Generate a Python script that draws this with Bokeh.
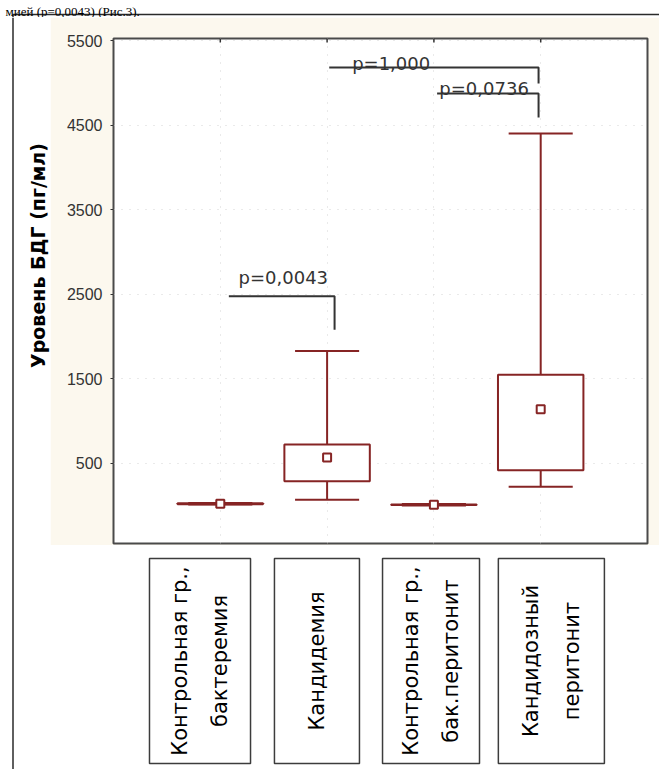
from math import pi
from bokeh.plotting import figure
from bokeh.layouts import row, column
from bokeh.models import Range1d, FixedTicker
from bokeh.core.properties import value
from bokeh.embed import file_html
from bokeh.resources import INLINE

# ---------------- data ----------------
groups = ["Контрольная гр.,\nбактеремия", "Кандидемия",
          "Контрольная гр.,\nбак.перитонит", "Кандидозный\nперитонит"]
positions = [1, 2, 3, 4]
whisker_low = [15, 70, 3, 225]
box_low = [18, 290, 8, 420]
mean_vals = [24, 570, 12, 1140]
box_high = [30, 725, 16, 1550]
whisker_high = [33, 1830, 22, 4400]

y_ticks = [500, 1500, 2500, 3500, 4500, 5500]
y_title = "Уровень БДГ (пг/мл)"
caption = "мией (p=0,0043) (Рис.3)."

p_texts = ["p=0,0043", "p=1,000", "p=0,0736"]
p_text_x = [1.59, 2.60, 3.47]
p_text_y = [2700, 5228, 4933]
bracket_xs = [[1.08, 2.07, 2.07], [2.02, 3.98, 3.98], [3.03, 3.98, 3.98]]
bracket_ys = [[2476, 2476, 2080], [5181, 5181, 4992], [4873, 4873, 4590]]

# category label boxes (offset from category position, width in x units)
label_offset = [-0.19, -0.095, -0.027, 0.10]
label_width = [0.946, 0.796, 0.908, 0.993]

# ---------------- style ----------------
BOX = "#862424"
CREAM = "#FCF8EE"
INK = "#333333"
DOC = "#2a2a2a"
Y0, Y1 = -446, 5524


def deco(w, h, xr, yr, **kw):
    f = figure(width=w, height=h, output_backend="svg", toolbar_location=None,
               title=None, x_range=xr, y_range=yr, x_axis_location=None,
               y_axis_location=None, min_border=0, outline_line_color=None,
               background_fill_color="white", border_fill_color="white", **kw)
    f.xgrid.visible = False
    f.ygrid.visible = False
    return f


# ---------------- main plot ----------------
p = figure(width=609, height=528, output_backend="svg", toolbar_location=None,
           title=None, x_range=Range1d(0, 5), y_range=Range1d(Y0, Y1),
           x_axis_location=None,
           min_border_left=63, min_border_top=21, min_border_right=12,
           min_border_bottom=2,
           background_fill_color="white", border_fill_color=CREAM,
           outline_line_color="#4a4a4a", outline_line_width=2)

p.yaxis.ticker = FixedTicker(ticks=y_ticks)
p.yaxis.axis_line_color = None
p.yaxis.major_tick_out = 3
p.yaxis.major_tick_in = 0
p.yaxis.minor_tick_line_color = None
p.yaxis.major_tick_line_color = INK
p.yaxis.major_label_standoff = 8
p.yaxis.major_label_text_font = "Liberation Sans"
p.yaxis.major_label_text_font_size = "16px"
p.yaxis.major_label_text_color = INK

p.xgrid.ticker = FixedTicker(ticks=positions)
for g in (p.xgrid, p.ygrid):
    g.grid_line_color = "#d4d4d4"
    g.grid_line_dash = "1 7"
    g.grid_line_width = 1

# small top tick marks at the category positions
top_tick = 47
p.segment(positions, [Y1] * 4, positions, [Y1 - top_tick] * 4, line_color=INK, line_width=1.5)

# box plots
cap_l = [x - 0.3 for x in positions]
cap_r = [x + 0.3 for x in positions]
p.segment(positions, box_high, positions, whisker_high, line_color=BOX, line_width=2)
p.segment(positions, whisker_low, positions, box_low, line_color=BOX, line_width=2)
p.segment(cap_l, whisker_high, cap_r, whisker_high, line_color=BOX, line_width=2)
p.segment(cap_l, whisker_low, cap_r, whisker_low, line_color=BOX, line_width=2)
p.vbar(x=positions, width=0.8, bottom=box_low, top=box_high,
       fill_color="white", line_color=BOX, line_width=2)
p.scatter(positions, mean_vals, marker="square", size=8,
          fill_color="white", line_color=BOX, line_width=2)

# significance brackets
p.multi_line(bracket_xs, bracket_ys, line_color=INK, line_width=2)
p.text(p_text_x, p_text_y, text=p_texts, text_align="center",
       text_baseline="alphabetic", text_font=value("DejaVu Sans"),
       text_font_size="18px", text_color=INK)

# ---------------- category label boxes (below the plot) ----------------
bottom = deco(609, 224, p.x_range, Range1d(0, 224),
              min_border_left=63, min_border_right=12)
label_x = [x + o for x, o in zip(positions, label_offset)]
bottom.rect(x=label_x, y=[108.5] * 4, width=label_width, height=[205] * 4,
            height_units="data", fill_color="white", line_color="#3c3c3c", line_width=1.5)
bottom.text(label_x, [108.5] * 4, text=groups, angle=pi / 2, text_align="center",
            text_baseline="middle", text_font=value("DejaVu Sans"),
            text_font_size="21px", text_line_height=1.7, text_color="black")

# ---------------- left strip with the y title ----------------
left = deco(50, 752, Range1d(0, 50), Range1d(0, 752))
left.segment([12.5], [0], [12.5], [752], line_color=DOC, line_width=1.5)
left.text([37], [514], text=[y_title], angle=pi / 2, text_align="center",
          text_baseline="middle", text_font=value("DejaVu Sans"),
          text_font_style="bold", text_font_size="19px", text_color="black")

# ---------------- top strip (page border + caption line) ----------------
top = deco(659, 17, Range1d(0, 659), Range1d(0, 17))
top.segment([12], [3], [659], [3], line_color=DOC, line_width=1.5)
top.segment([12.5], [0], [12.5], [3], line_color=DOC, line_width=1.5)
top.text([5], [6.5], text=[caption], text_align="left", text_baseline="alphabetic",
         text_font=value("Liberation Serif"), text_font_size="13px", text_color="black")

layout = column(top, row(left, column(p, bottom)))
open("out.html", "w").write(file_html(layout, INLINE))
